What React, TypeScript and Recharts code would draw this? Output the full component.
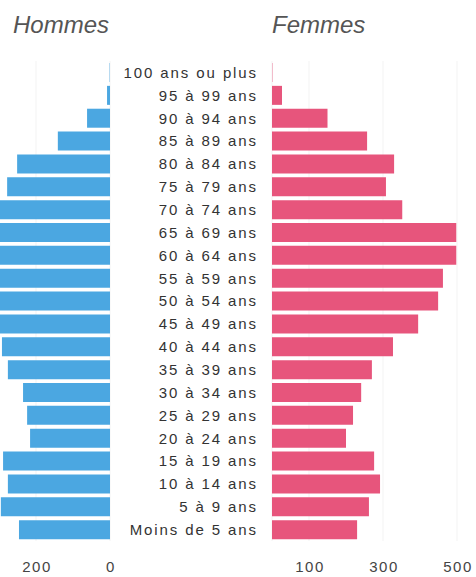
import React from 'react';
import { BarChart, Bar, XAxis, YAxis, CartesianGrid } from 'recharts';

const ageGroups = [
  '100 ans ou plus', '95 à 99 ans', '90 à 94 ans', '85 à 89 ans', '80 à 84 ans',
  '75 à 79 ans', '70 à 74 ans', '65 à 69 ans', '60 à 64 ans', '55 à 59 ans',
  '50 à 54 ans', '45 à 49 ans', '40 à 44 ans', '35 à 39 ans', '30 à 34 ans',
  '25 à 29 ans', '20 à 24 ans', '15 à 19 ans', '10 à 14 ans', '5 à 9 ans',
  'Moins de 5 ans',
];
const hommes = [1, 8, 62, 141, 251, 278, 320, 360, 370, 355, 345, 330, 292, 276, 235, 224, 216, 289, 276, 295, 246];
const femmes = [1, 27, 150, 257, 330, 308, 352, 498, 498, 462, 449, 395, 327, 270, 241, 219, 200, 276, 292, 262, 230];
const leftTicks = [0, 200];
const rightTicks = [100, 300, 500];

const data = ageGroups.map((age, i) => ({ age, hommes: hommes[i], femmes: femmes[i] }));

const FONT = '"Liberation Sans", Arial, Helvetica, sans-serif';
const BLUE = '#4ba7e1';
const PINK = '#e7557c';

const XTick = (props: any) => {
  const { x, y, payload } = props;
  return (
    <text x={x + 1} y={y} dy="0.71em" textAnchor="middle" fontSize={15} fill="#444"
      fontFamily={FONT} style={{ letterSpacing: '1.5px' }}>
      {payload.value}
    </text>
  );
};

const YTick = (props: any) => {
  const { x, y, payload } = props;
  return (
    <text x={x} y={y} dy="0.36em" textAnchor="end" fontSize={15} fill="#333"
      fontFamily={FONT} style={{ letterSpacing: '1.9px' }}>
      {payload.value}
    </text>
  );
};

export default function App() {
  return (
    <div style={{ position: 'fixed', left: 0, top: 0, width: 476, height: 577, overflow: 'hidden', background: '#fff' }}>
      <div style={{ position: 'absolute', left: 13, top: 12.7, fontFamily: FONT, fontStyle: 'italic', fontSize: 24, lineHeight: '24px', color: '#555', whiteSpace: 'nowrap' }}>Hommes</div>
      <div style={{ position: 'absolute', left: 272, top: 12.7, fontFamily: FONT, fontStyle: 'italic', fontSize: 24, lineHeight: '24px', color: '#555', whiteSpace: 'nowrap' }}>Femmes</div>
      <div style={{ position: 'absolute', left: -112, top: 0 }}>
        <BarChart layout="vertical" width={234} height={577} data={data}
          margin={{ top: 61, right: 12, bottom: 0, left: 0 }} barCategoryGap={0}>
          <CartesianGrid horizontal={false} stroke="#f3f3f3" />
          <XAxis type="number" domain={[0, 600]} reversed ticks={leftTicks} height={36}
            axisLine={false} tickLine={false} tickMargin={14} tick={<XTick />} interval={0} />
          <YAxis type="category" dataKey="age" hide />
          <Bar dataKey="hommes" fill={BLUE} barSize={19} isAnimationActive={false} />
        </BarChart>
      </div>
      <div style={{ position: 'absolute', left: 110, top: 0 }}>
        <BarChart layout="vertical" width={394} height={577} data={data}
          margin={{ top: 61, right: 10, bottom: 0, left: 0 }} barCategoryGap={0}>
          <CartesianGrid horizontal={false} stroke="#f3f3f3" />
          <XAxis type="number" domain={[0, 600]} ticks={rightTicks} height={36}
            axisLine={false} tickLine={false} tickMargin={14} tick={<XTick />} interval={0} />
          <YAxis type="category" dataKey="age" width={162} axisLine={false} tickLine={false}
            tickMargin={8} tick={<YTick />} interval={0} />
          <Bar dataKey="femmes" fill={PINK} barSize={19} isAnimationActive={false} />
        </BarChart>
      </div>
    </div>
  );
}
